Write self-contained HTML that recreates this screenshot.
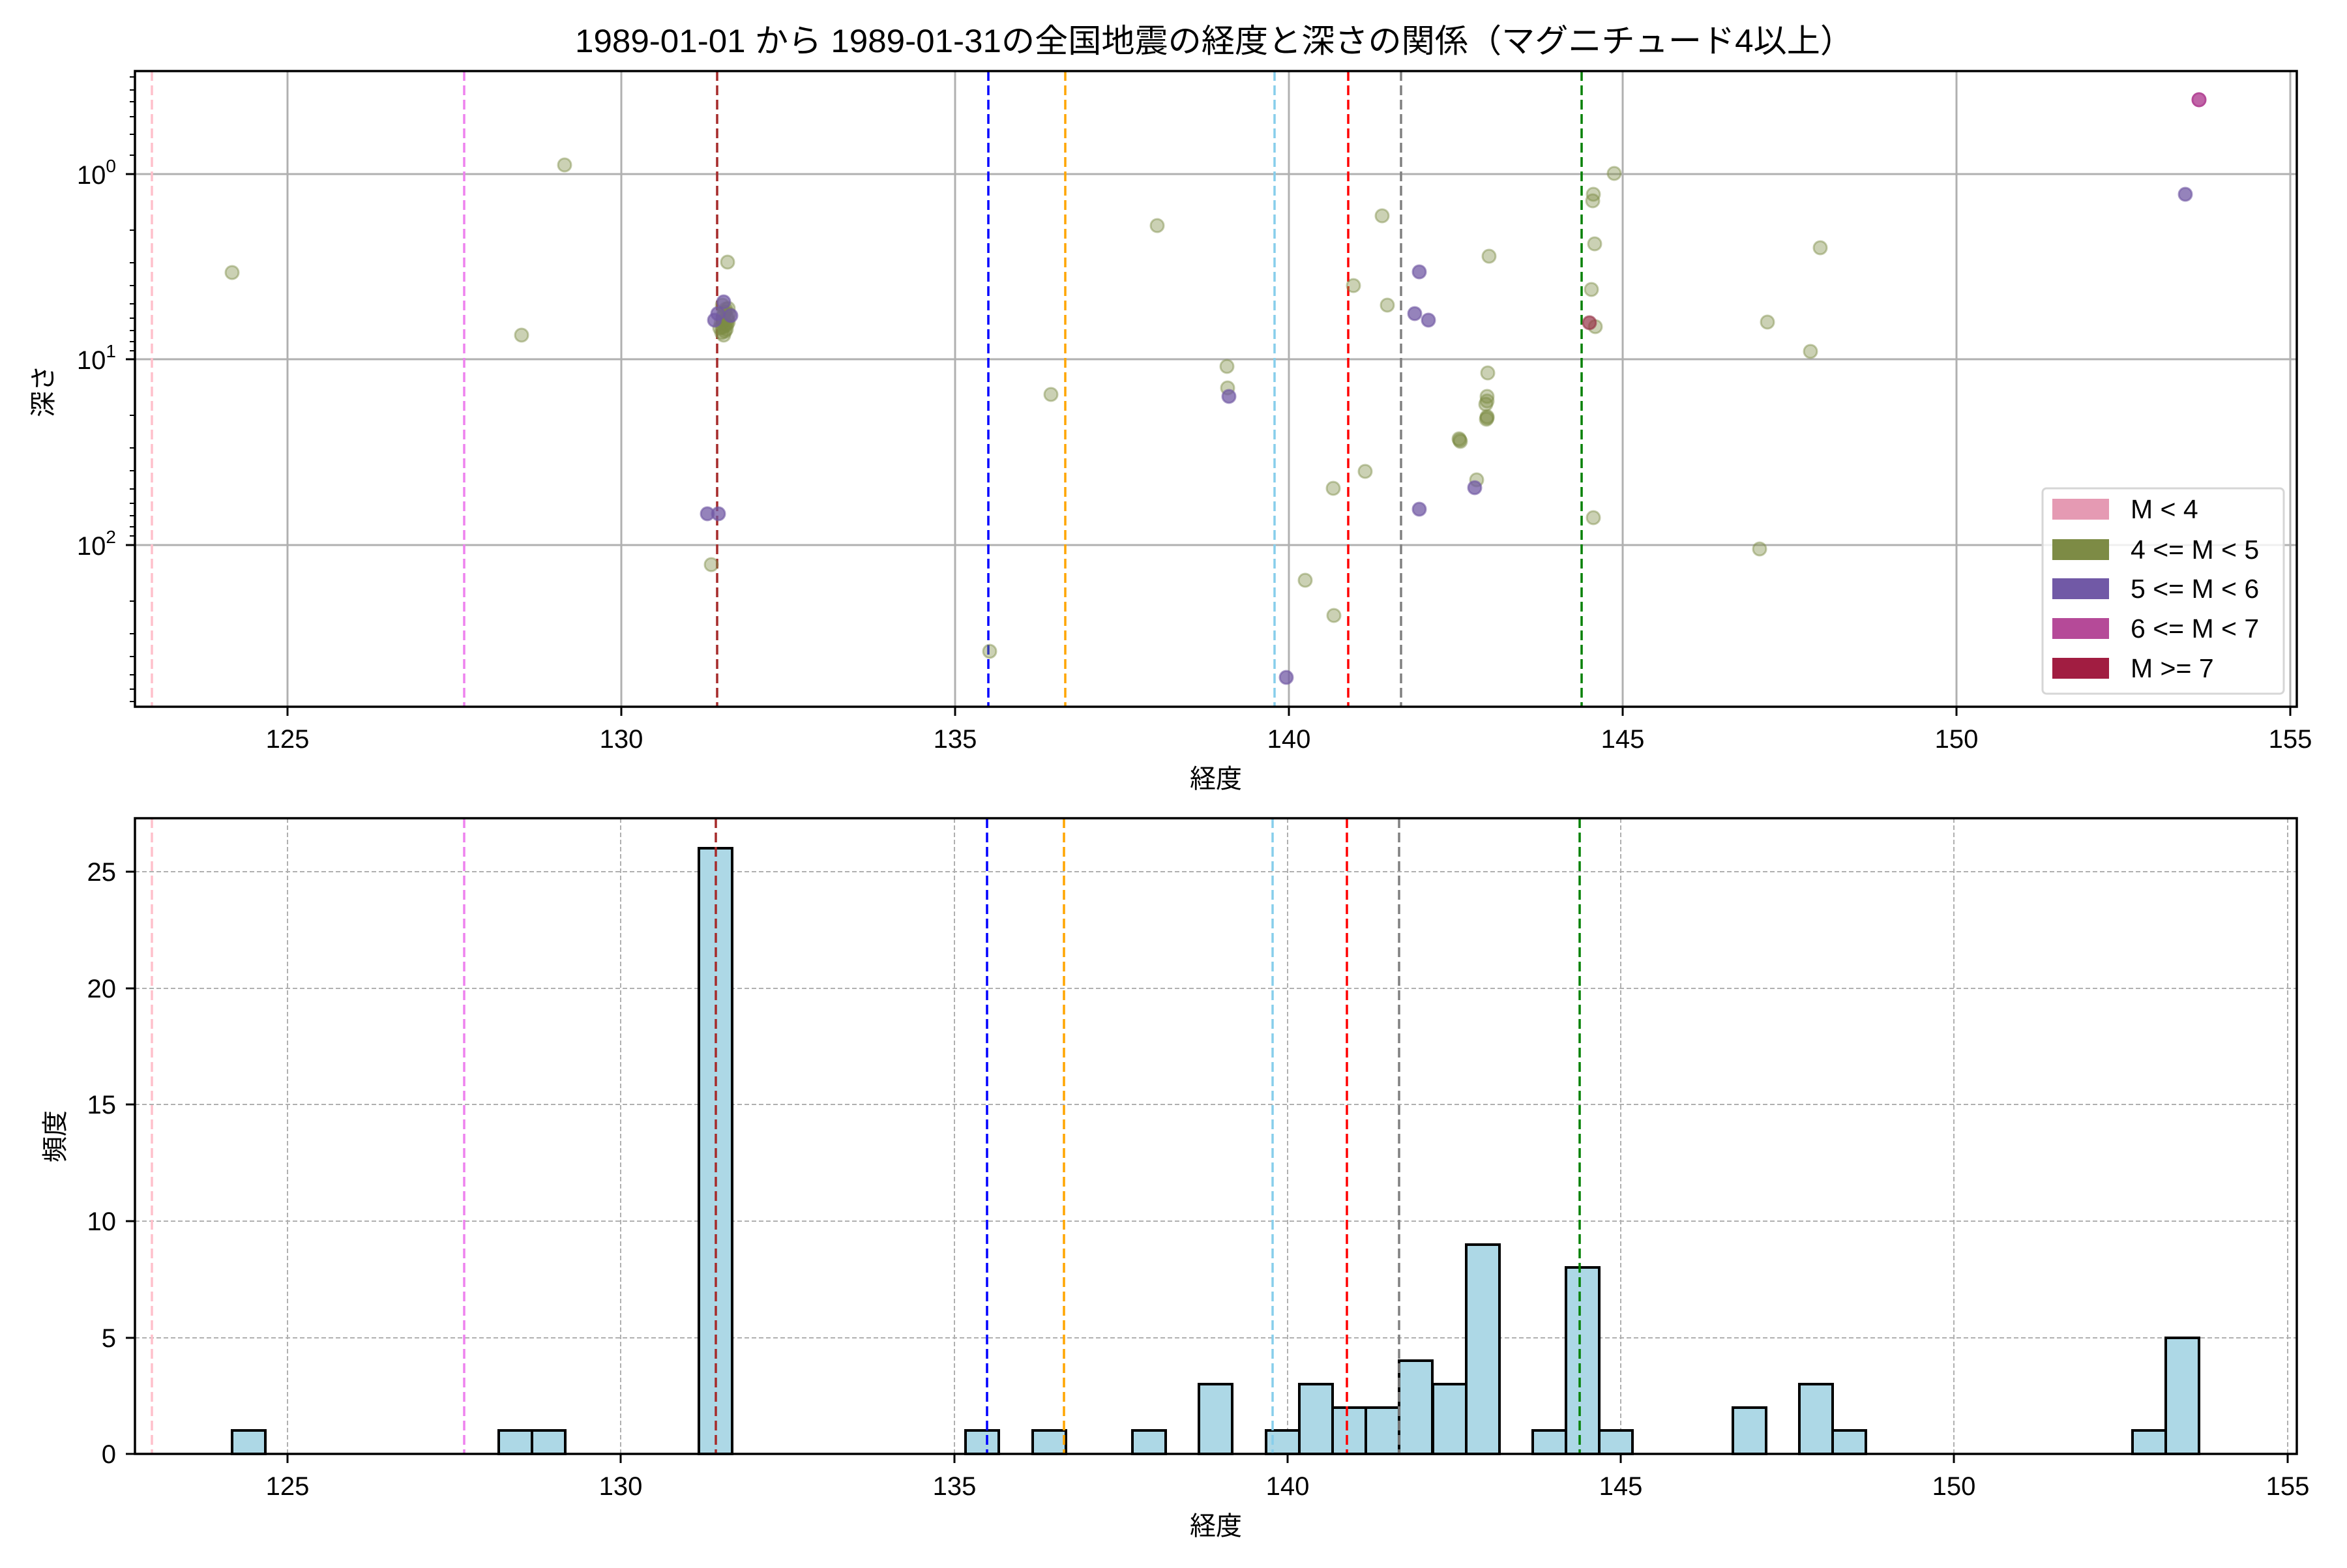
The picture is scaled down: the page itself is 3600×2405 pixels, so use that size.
<!DOCTYPE html>
<html><head><meta charset="utf-8"><style>
html,body{margin:0;padding:0;background:#fff;}
svg text{font-family:"Liberation Sans","Noto Sans CJK JP",sans-serif;fill:#000;}
</style></head><body>
<svg xmlns="http://www.w3.org/2000/svg" width="3600" height="2400" viewBox="0 0 3600 2400">
<rect width="3600" height="2400" fill="#fff"/>
<text x="882" y="80" font-size="50" textLength="1961" lengthAdjust="spacingAndGlyphs">1989-01-01 から 1989-01-31の全国地震の経度と深さの関係（マグニチュード4以上）</text>

<!-- ===== TOP AXES ===== -->
<g stroke="#b0b0b0" stroke-width="3">
<line x1="441" y1="109" x2="441" y2="1084"/><line x1="953" y1="109" x2="953" y2="1084"/>
<line x1="1465" y1="109" x2="1465" y2="1084"/><line x1="1977" y1="109" x2="1977" y2="1084"/>
<line x1="2489" y1="109" x2="2489" y2="1084"/><line x1="3001" y1="109" x2="3001" y2="1084"/>
<line x1="3513" y1="109" x2="3513" y2="1084"/>
<line x1="207" y1="267" x2="3523" y2="267"/><line x1="207" y1="551" x2="3523" y2="551"/><line x1="207" y1="836" x2="3523" y2="836"/>
</g>
<g stroke-width="3.5" stroke-dasharray="15 7" fill="none">
<line x1="233" y1="109" x2="233" y2="1084" stroke="pink"/>
<line x1="712" y1="109" x2="712" y2="1084" stroke="violet"/>
<line x1="1100" y1="109" x2="1100" y2="1084" stroke="brown"/>
<line x1="1516" y1="109" x2="1516" y2="1084" stroke="blue"/>
<line x1="1634" y1="109" x2="1634" y2="1084" stroke="orange"/>
<line x1="1955" y1="109" x2="1955" y2="1084" stroke="skyblue"/>
<line x1="2068" y1="109" x2="2068" y2="1084" stroke="red"/>
<line x1="2149" y1="109" x2="2149" y2="1084" stroke="gray"/>
<line x1="2426" y1="109" x2="2426" y2="1084" stroke="green"/>
</g>
<g fill="rgb(124,139,68)" fill-opacity="0.4" stroke="rgb(124,139,68)" stroke-opacity="0.45" stroke-width="3">
<circle cx="356" cy="418" r="10"/><circle cx="866" cy="253" r="10"/><circle cx="800" cy="514" r="10"/>
<circle cx="1116" cy="402" r="10"/><circle cx="1117" cy="473" r="10"/><circle cx="1110" cy="514" r="10"/>
<circle cx="1108" cy="468" r="10"/><circle cx="1091" cy="866" r="10"/>
<circle cx="1775" cy="346" r="10"/><circle cx="2120" cy="331" r="10"/><circle cx="2284" cy="393" r="10"/>
<circle cx="2076" cy="438" r="10"/><circle cx="2128" cy="468" r="10"/>
<circle cx="1882" cy="562" r="10"/><circle cx="1883" cy="595" r="10"/><circle cx="1612" cy="605" r="10"/>
<circle cx="2282" cy="572" r="10"/><circle cx="2281" cy="608" r="10"/><circle cx="2281" cy="615" r="10"/><circle cx="2279" cy="620" r="10"/>
<circle cx="2281" cy="641" r="10"/><circle cx="2280" cy="643" r="10"/><circle cx="2281" cy="639" r="10"/>
<circle cx="2239" cy="675" r="10"/><circle cx="2240" cy="677" r="10"/><circle cx="2238" cy="673" r="10"/>
<circle cx="2094" cy="723" r="10"/><circle cx="2045" cy="749" r="10"/><circle cx="2265" cy="736" r="10"/>
<circle cx="2002" cy="890" r="10"/><circle cx="2046" cy="944" r="10"/><circle cx="1518" cy="999" r="10"/>
<circle cx="2476" cy="266" r="10"/><circle cx="2444" cy="298" r="10"/><circle cx="2443" cy="308" r="10"/>
<circle cx="2446" cy="374" r="10"/><circle cx="2792" cy="380" r="10"/><circle cx="2441" cy="444" r="10"/>
<circle cx="2447" cy="501" r="10"/><circle cx="2711" cy="494" r="10"/><circle cx="2777" cy="539" r="10"/>
<circle cx="2444" cy="794" r="10"/><circle cx="2699" cy="842" r="10"/>
<circle cx="1112" cy="478" r="10"/><circle cx="1115" cy="486" r="10"/><circle cx="1110" cy="492" r="10"/>
<circle cx="1113" cy="497" r="10"/><circle cx="1108" cy="502" r="10"/><circle cx="1114" cy="505" r="10"/>
<circle cx="1111" cy="500" r="10"/><circle cx="1116" cy="490" r="10"/><circle cx="1106" cy="495" r="10"/>
<circle cx="1118" cy="482" r="10"/><circle cx="1109" cy="486" r="10"/><circle cx="1112" cy="508" r="10"/>
<circle cx="1107" cy="510" r="10"/><circle cx="1115" cy="498" r="10"/><circle cx="1110" cy="480" r="10"/>
<circle cx="1113" cy="474" r="10"/><circle cx="1117" cy="494" r="10"/><circle cx="1104" cy="503" r="10"/>
</g>
<g fill="rgb(113,89,164)" fill-opacity="0.75" stroke="rgb(113,89,164)" stroke-opacity="0.6" stroke-width="3">
<circle cx="1110" cy="463" r="10"/><circle cx="1096" cy="491" r="10"/><circle cx="1121" cy="484" r="10"/><circle cx="1101" cy="481" r="10"/>
<circle cx="1085" cy="788" r="10"/><circle cx="1102" cy="788" r="10"/>
<circle cx="2177" cy="417" r="10"/><circle cx="2170" cy="481" r="10"/><circle cx="2191" cy="491" r="10"/>
<circle cx="1885" cy="608" r="10"/><circle cx="2262" cy="748" r="10"/><circle cx="2177" cy="781" r="10"/>
<circle cx="1973" cy="1039" r="10"/><circle cx="3352" cy="298" r="10"/>
</g>
<circle cx="3373" cy="153" r="10" fill="rgb(181,74,152)" fill-opacity="0.85" stroke="rgb(181,74,152)" stroke-width="3"/>
<circle cx="2438" cy="495" r="10" fill="rgb(150,50,70)" fill-opacity="0.7" stroke="rgb(150,50,70)" stroke-opacity="0.6" stroke-width="3"/>

<rect x="3133" y="749" width="370" height="315" rx="6" fill="#fff" fill-opacity="0.8" stroke="#d6d6d6" stroke-width="3"/>
<rect x="3148" y="765" width="87" height="32" fill="#e59ab3"/>
<rect x="3148" y="827" width="87" height="32" fill="#7d8b45"/>
<rect x="3148" y="887" width="87" height="32" fill="#7159a6"/>
<rect x="3148" y="948" width="87" height="32" fill="#b54a98"/>
<rect x="3148" y="1009" width="87" height="32" fill="#a11d41"/>
<g font-size="41">
<text x="3268" y="795">M &lt; 4</text>
<text x="3268" y="857">4 &lt;= M &lt; 5</text>
<text x="3268" y="917">5 &lt;= M &lt; 6</text>
<text x="3268" y="978">6 &lt;= M &lt; 7</text>
<text x="3268" y="1039">M &gt;= 7</text>
</g>

<rect x="207" y="109" width="3316" height="975" fill="none" stroke="#000" stroke-width="3.5"/>
<g stroke="#000" stroke-width="3">
<line x1="441" y1="1084" x2="441" y2="1098"/><line x1="953" y1="1084" x2="953" y2="1098"/>
<line x1="1465" y1="1084" x2="1465" y2="1098"/><line x1="1977" y1="1084" x2="1977" y2="1098"/>
<line x1="2489" y1="1084" x2="2489" y2="1098"/><line x1="3001" y1="1084" x2="3001" y2="1098"/>
<line x1="3513" y1="1084" x2="3513" y2="1098"/>
<line x1="193" y1="267" x2="207" y2="267"/><line x1="193" y1="551" x2="207" y2="551"/><line x1="193" y1="836" x2="207" y2="836"/>
</g>
<g stroke="#000" stroke-width="2">
<line x1="199" y1="118" x2="207" y2="118"/><line x1="199" y1="138" x2="207" y2="138"/><line x1="199" y1="156" x2="207" y2="156"/>
<line x1="199" y1="179" x2="207" y2="179"/><line x1="199" y1="206" x2="207" y2="206"/><line x1="199" y1="238" x2="207" y2="238"/>
<line x1="199" y1="353" x2="207" y2="353"/><line x1="199" y1="403" x2="207" y2="403"/><line x1="199" y1="438" x2="207" y2="438"/>
<line x1="199" y1="466" x2="207" y2="466"/><line x1="199" y1="488" x2="207" y2="488"/><line x1="199" y1="507" x2="207" y2="507"/>
<line x1="199" y1="524" x2="207" y2="524"/><line x1="199" y1="538" x2="207" y2="538"/>
<line x1="199" y1="637" x2="207" y2="637"/><line x1="199" y1="687" x2="207" y2="687"/><line x1="199" y1="722" x2="207" y2="722"/>
<line x1="199" y1="750" x2="207" y2="750"/><line x1="199" y1="772" x2="207" y2="772"/><line x1="199" y1="791" x2="207" y2="791"/>
<line x1="199" y1="808" x2="207" y2="808"/><line x1="199" y1="822" x2="207" y2="822"/>
<line x1="199" y1="922" x2="207" y2="922"/><line x1="199" y1="972" x2="207" y2="972"/><line x1="199" y1="1007" x2="207" y2="1007"/>
<line x1="199" y1="1035" x2="207" y2="1035"/><line x1="199" y1="1057" x2="207" y2="1057"/><line x1="199" y1="1076" x2="207" y2="1076"/>
</g>
<g font-size="40" text-anchor="middle">
<text x="441" y="1147">125</text><text x="953" y="1147">130</text><text x="1465" y="1147">135</text>
<text x="1977" y="1147">140</text><text x="2489" y="1147">145</text><text x="3001" y="1147">150</text><text x="3513" y="1147">155</text>
</g>
<g font-size="40" text-anchor="end">
<text x="178" y="282">10<tspan font-size="28" dy="-18">0</tspan></text>
<text x="178" y="566">10<tspan font-size="28" dy="-18">1</tspan></text>
<text x="178" y="851">10<tspan font-size="28" dy="-18">2</tspan></text>
</g>
<text x="1865" y="1208" font-size="40" text-anchor="middle">経度</text>
<text transform="translate(80,600) rotate(-90)" font-size="40" text-anchor="middle">深さ</text>

<g stroke="#b0b0b0" stroke-width="2" stroke-dasharray="7 4">
<line x1="441" y1="1255" x2="441" y2="2230"/><line x1="952" y1="1255" x2="952" y2="2230"/>
<line x1="1464" y1="1255" x2="1464" y2="2230"/><line x1="1975" y1="1255" x2="1975" y2="2230"/>
<line x1="2486" y1="1255" x2="2486" y2="2230"/><line x1="2997" y1="1255" x2="2997" y2="2230"/>
<line x1="3509" y1="1255" x2="3509" y2="2230"/>
<line x1="207" y1="1337" x2="3523" y2="1337"/><line x1="207" y1="1516" x2="3523" y2="1516"/>
<line x1="207" y1="1694" x2="3523" y2="1694"/><line x1="207" y1="1873" x2="3523" y2="1873"/>
<line x1="207" y1="2052" x2="3523" y2="2052"/>
</g>
<g fill="#add8e6" stroke="#000" stroke-width="4">
<rect x="356" y="2194" width="51" height="36"/>
<rect x="765" y="2194" width="51" height="36"/><rect x="816" y="2194" width="51" height="36"/>
<rect x="1072" y="1301" width="51" height="929"/>
<rect x="1481" y="2194" width="51" height="36"/>
<rect x="1584" y="2194" width="51" height="36"/>
<rect x="1737" y="2194" width="51" height="36"/>
<rect x="1839" y="2123" width="51" height="107"/>
<rect x="1942" y="2194" width="51" height="36"/>
<rect x="1993" y="2123" width="51" height="107"/>
<rect x="2044" y="2159" width="51" height="71"/>
<rect x="2095" y="2159" width="51" height="71"/>
<rect x="2146" y="2087" width="51" height="143"/>
<rect x="2198" y="2123" width="51" height="107"/>
<rect x="2249" y="1909" width="51" height="321"/>
<rect x="2351" y="2194" width="51" height="36"/>
<rect x="2402" y="1944" width="51" height="286"/>
<rect x="2453" y="2194" width="51" height="36"/>
<rect x="2658" y="2159" width="51" height="71"/>
<rect x="2760" y="2123" width="51" height="107"/>
<rect x="2811" y="2194" width="51" height="36"/>
<rect x="3271" y="2194" width="51" height="36"/>
<rect x="3322" y="2052" width="51" height="178"/>
</g>
<g stroke-width="3.5" stroke-dasharray="15 7" fill="none">
<line x1="233" y1="1255" x2="233" y2="2230" stroke="pink"/>
<line x1="712" y1="1255" x2="712" y2="2230" stroke="violet"/>
<line x1="1098" y1="1255" x2="1098" y2="2230" stroke="brown"/>
<line x1="1514" y1="1255" x2="1514" y2="2230" stroke="blue"/>
<line x1="1632" y1="1255" x2="1632" y2="2230" stroke="orange"/>
<line x1="1952" y1="1255" x2="1952" y2="2230" stroke="skyblue"/>
<line x1="2066" y1="1255" x2="2066" y2="2230" stroke="red"/>
<line x1="2146" y1="1255" x2="2146" y2="2230" stroke="gray"/>
<line x1="2423" y1="1255" x2="2423" y2="2230" stroke="green"/>
</g>
<rect x="207" y="1255" width="3316" height="975" fill="none" stroke="#000" stroke-width="3.5"/>
<g stroke="#000" stroke-width="3">
<line x1="441" y1="2230" x2="441" y2="2244"/><line x1="952" y1="2230" x2="952" y2="2244"/>
<line x1="1464" y1="2230" x2="1464" y2="2244"/><line x1="1975" y1="2230" x2="1975" y2="2244"/>
<line x1="2486" y1="2230" x2="2486" y2="2244"/><line x1="2997" y1="2230" x2="2997" y2="2244"/>
<line x1="3509" y1="2230" x2="3509" y2="2244"/>
<line x1="193" y1="2230" x2="207" y2="2230"/><line x1="193" y1="2052" x2="207" y2="2052"/>
<line x1="193" y1="1873" x2="207" y2="1873"/><line x1="193" y1="1694" x2="207" y2="1694"/>
<line x1="193" y1="1516" x2="207" y2="1516"/><line x1="193" y1="1337" x2="207" y2="1337"/>
</g>
<g font-size="40" text-anchor="middle">
<text x="441" y="2293">125</text><text x="952" y="2293">130</text><text x="1464" y="2293">135</text>
<text x="1975" y="2293">140</text><text x="2486" y="2293">145</text><text x="2997" y="2293">150</text><text x="3509" y="2293">155</text>
</g>
<g font-size="40" text-anchor="end">
<text x="178" y="2244">0</text><text x="178" y="2066">5</text><text x="178" y="1887">10</text>
<text x="178" y="1708">15</text><text x="178" y="1530">20</text><text x="178" y="1351">25</text>
</g>
<text x="1865" y="2354" font-size="40" text-anchor="middle">経度</text>
<text transform="translate(98,1743) rotate(-90)" font-size="40" text-anchor="middle">頻度</text>
</svg>
</body></html>
